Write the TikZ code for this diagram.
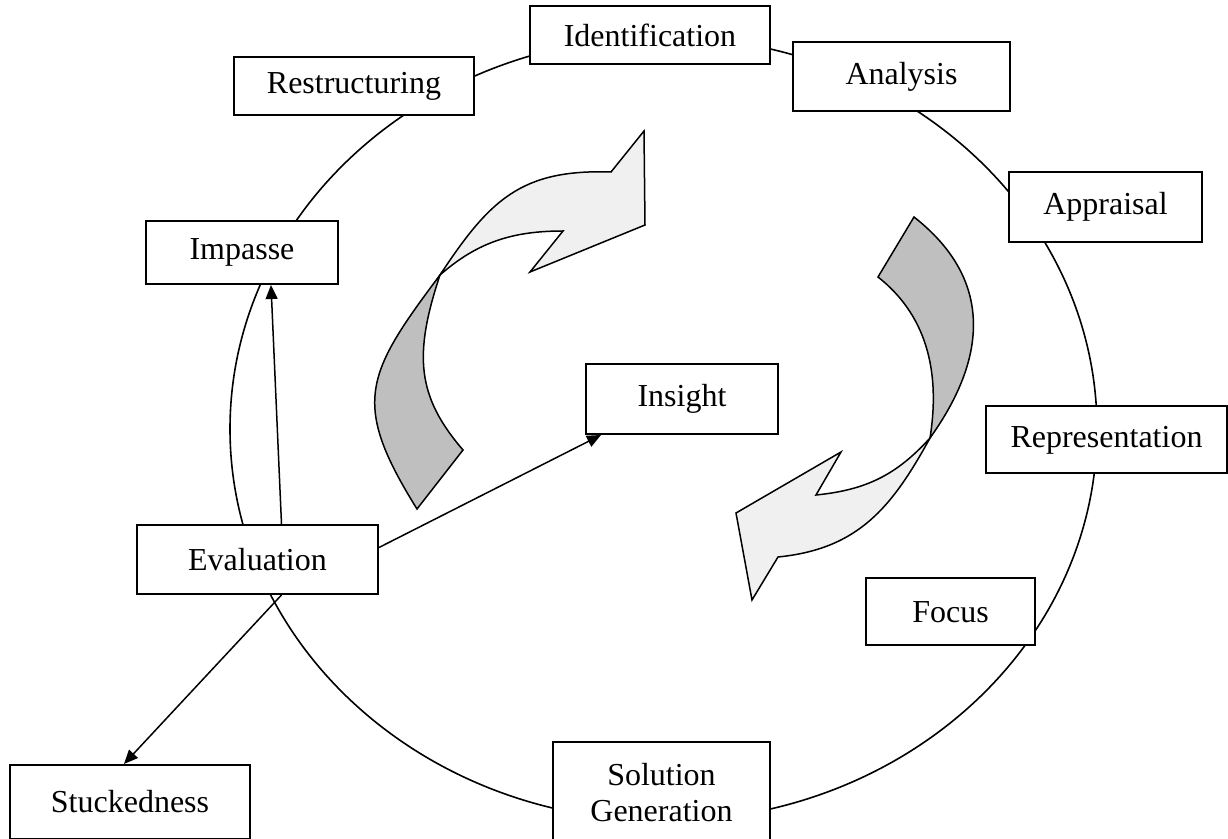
\documentclass[tikz,border=0pt]{standalone}
\usepackage{fontspec}
\setmainfont{Liberation Serif}
\usetikzlibrary{arrows.meta}

\begin{document}
\begin{tikzpicture}[x=0.5pt, y=-0.5pt,
  box/.style={draw, line width=1pt, fill=white, inner sep=0pt, align=center,
    font=\fontsize{16}{18}\selectfont},
  link/.style={line width=0.75pt, -{Triangle[length=7pt,width=6pt]}},
  back/.style={draw, line width=0.75pt, fill=gray!50},
  front/.style={draw, line width=0.75pt, fill=gray!12}]
\useasboundingbox (0,0) rectangle (1228,839);

% the cycle
\draw[line width=0.8pt] (663.5,429) ellipse [x radius=433.5, y radius=392];

% twisted arrow, upper left
\path[back]
  (440,275) .. controls (365,375) and (351,403) .. (417,509)
  -- (463,450)
  .. controls (417.5,397) and (413,356) .. (440,275) -- cycle;
\path[front]
  (440,275) .. controls (489.5,200) and (521,169) .. (611,172)
  -- (644,131) -- (645,225) -- (530,272) -- (563,231)
  .. controls (513,231) and (477.5,242) .. (440,275) -- cycle;

% twisted arrow, lower right
\path[back]
  (914,217) .. controls (993,279) and (988,357) .. (930,438)
  .. controls (941,369) and (925,314) .. (878,277) -- cycle;
\path[front]
  (930,438) .. controls (891.6,508) and (858,549) .. (778,557)
  -- (752,600) -- (736,513) -- (841,452) -- (816,495)
  .. controls (866,490) and (896.5,475) .. (930,438) -- cycle;

\path
 (650,35)     node [box, minimum width=120pt,   minimum height=29pt]   (ident) {Identification}
 (901.5,76.5) node [box, minimum width=108.5pt, minimum height=34.5pt] (anal)  {Analysis}
 (354,86)     node [box, minimum width=120pt,   minimum height=29pt]   (restr) {Restructuring}
 (1105.5,207) node [box, minimum width=96.5pt,  minimum height=35pt]   (appr)  {Appraisal}
 (242,252.5)  node [box, minimum width=96pt,    minimum height=31.5pt] (imp)   {Impasse}
 (682,399)    node [box, minimum width=96pt,    minimum height=35pt]   (ins)   {Insight}
 (1106.5,440) node [box, minimum width=120.5pt, minimum height=33.5pt] (repr)  {Representation}
 (257.5,559.5) node [box, minimum width=120.5pt, minimum height=34.5pt] (eval) {Evaluation}
 (950.5,612)  node [box, minimum width=84.5pt,  minimum height=33.5pt] (foc)   {Focus}
 (130,802)    node [box, minimum width=120pt,   minimum height=37pt]   (stuck) {Stuckedness}
 (661.5,793)  node [box, minimum width=108.5pt, minimum height=51pt]   (sol)   {Solution\\Generation}
;

\draw[link] ([xshift=12pt]eval.north) -- ([xshift=14.5pt]imp.south);
\draw[link] ([yshift=6pt]eval.east) -- ([xshift=8pt]ins.south west);
\draw[link] ([xshift=12pt]eval.south) -- ([xshift=-3pt]stuck.north);
\end{tikzpicture}
\end{document}
